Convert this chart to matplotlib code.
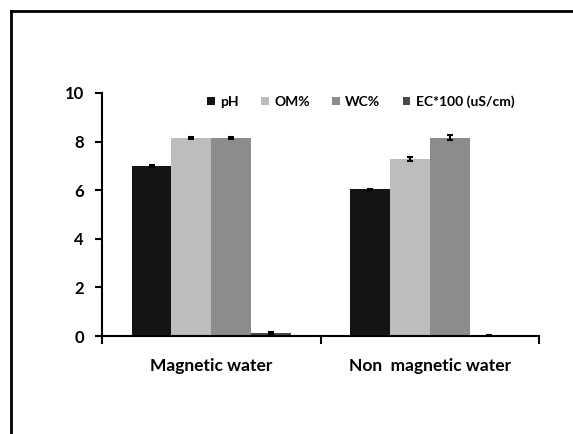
import matplotlib.pyplot as plt
from matplotlib.lines import Line2D
import numpy as np

# soil properties under two irrigation treatments
groups = ["Magnetic water", "Non  magnetic water"]
series = ["pH", "OM%", "WC%", "EC*100 (uS/cm)"]
ph = [7.0, 6.03]
om = [8.15, 7.3]
wc = [8.15, 8.15]
ec = [0.12, 0.02]
ph_err = [0.04, 0.03]
om_err = [0.05, 0.08]
wc_err = [0.04, 0.1]
ec_err = [0.04, 0.02]

colors = ["#141414", "#bdbdbd", "#8c8c8c", "#4a4a4a"]

plt.rcParams["font.family"] = ["Lato", "DejaVu Sans"]
plt.rcParams["font.weight"] = "bold"

fig = plt.figure(figsize=(5.73, 4.34), dpi=100)
ax = fig.add_axes([0.178, 0.2258, 0.7627, 0.56])

x = np.arange(len(groups))
width = 0.182
values = [ph, om, wc, ec]
errors = [ph_err, om_err, wc_err, ec_err]
for i, (vals, errs) in enumerate(zip(values, errors)):
    ax.bar(x + (i - 1.5) * width, vals, width, color=colors[i], label=series[i],
           yerr=errs, capsize=2, error_kw=dict(ecolor="black", elinewidth=1.5, capthick=1.5))

ax.set_xlim(-0.5, 1.5)
ax.set_ylim(0, 10)
ax.set_yticks([0, 2, 4, 6, 8, 10])
ax.set_xticks(x)
ax.set_xticklabels(groups, fontsize=12.5)
ax.set_xticks([-0.5, 0.5, 1.5], minor=True)
ax.tick_params(axis="x", which="major", length=0, pad=16)
ax.tick_params(axis="x", which="minor", length=6, width=1.5, direction="out")
ax.tick_params(axis="y", length=5, width=1.5, pad=8, labelsize=12)

for side in ["top", "right"]:
    ax.spines[side].set_visible(False)
for side in ["left", "bottom"]:
    ax.spines[side].set_linewidth(1.5)

ax.legend(loc="center", bbox_to_anchor=(0.592, 0.963), ncol=4, frameon=False,
          fontsize=10, handlelength=0.55, handleheight=0.55, handletextpad=0.4,
          columnspacing=1.6)

# frame around the figure (only top and left visible in the crop)
fig.add_artist(Line2D([11 / 573, 1], [1 - 11 / 434, 1 - 11 / 434], color="black", lw=2))
fig.add_artist(Line2D([11 / 573, 11 / 573], [0, 1 - 11 / 434], color="black", lw=2))

fig.savefig("out.png", dpi=100)
